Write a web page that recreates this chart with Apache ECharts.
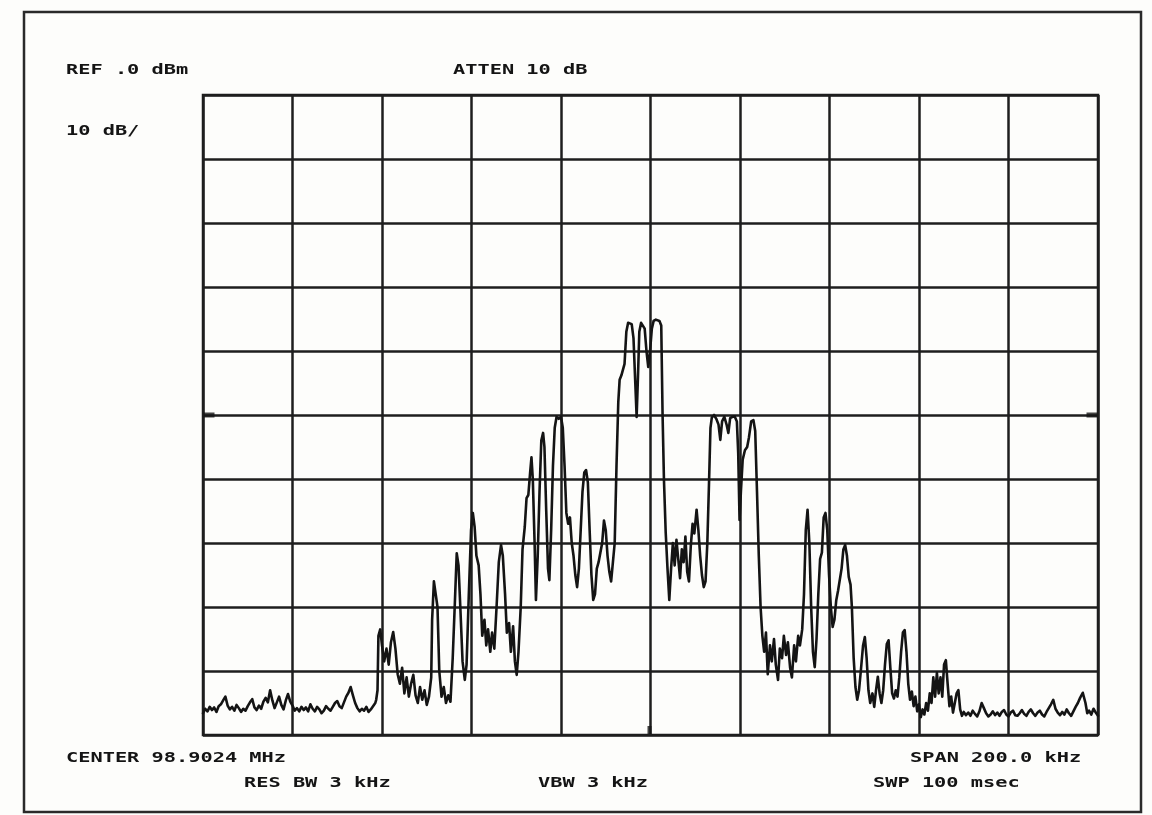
<!DOCTYPE html>
<html>
<head>
<meta charset="utf-8">
<script src="https://cdn.jsdelivr.net/npm/echarts@6/dist/echarts.min.js"></script>
<style>
  html, body { margin: 0; padding: 0; background: #ffffff; }
  #chart { width: 1152px; height: 815px; }
</style>
</head>
<body>
<div id="chart"></div>
<script>
// Spectrum analyzer display: 20 kHz/div across a 200 kHz span, 10 dB/div from a 0 dBm reference.
// Trace points are [offset from center (kHz), level (dBm)].

const floorLeft = [
  [-100,-96.6],[-99.5,-95.9],[-99,-96.3],[-98.5,-95.6],[-98,-96.1],[-97.5,-95.7],[-97,-96.4],[-96.5,-95.5],
  [-96,-95.2],[-95.5,-94.6],[-95,-94.0],[-94.5,-95.4],[-94,-96.0],[-93.5,-95.6],[-93,-96.2],[-92.5,-95.3],
  [-92,-95.8],[-91.5,-96.4],[-91,-95.9],[-90.5,-96.2],[-90,-95.5],[-89.5,-94.9],[-89,-94.4],[-88.5,-95.7],
  [-88,-96.1],[-87.5,-95.4],[-87,-95.9],[-86.5,-94.8],[-86,-94.2],[-85.5,-94.9],[-85,-93.0],[-84.5,-94.6],
  [-84,-95.8],[-83.5,-94.9],[-83,-94.0],[-82.5,-95.3],[-82,-96.0],[-81.5,-94.6],[-81,-93.6],[-80.5,-94.8],
  [-80,-95.4],[-79.5,-96.2],[-79,-95.8],[-78.5,-96.3],[-78,-95.6],[-77.5,-96.1],[-77,-95.7],[-76.5,-96.3],
  [-76,-95.2],[-75.5,-95.9],[-75,-96.3],[-74.5,-95.6],[-74,-96.0],[-73.5,-96.6],[-73,-96.2],[-72.5,-95.5],
  [-72,-95.9],[-71.5,-96.2],[-71,-95.6],[-70.5,-95.0],[-70,-94.7],[-69.5,-95.5],[-69,-95.8],[-68.5,-94.9],
  [-68,-94.0],[-67.5,-93.4],[-67,-92.5],[-66.5,-93.8],[-66,-95.0],[-65.5,-95.8],[-65,-96.3],[-64.5,-95.9],
  [-64,-96.2],[-63.5,-95.6],[-63,-96.4],[-62.5,-96.0],[-62,-95.5],[-61.5,-95.0],[-61.3,-94.5]
];

const lowerOuter = [
  [-61.0,-93.0],[-60.8,-84.5],[-60.4,-83.5],[-60.0,-86.0],[-59.5,-88.5],[-59.0,-86.5],[-58.5,-89.0],
  [-58.0,-85.5],[-57.5,-83.9],[-57.0,-86.5],[-56.5,-90.5],[-56.0,-92.0],[-55.5,-89.5],[-55.0,-93.5],
  [-54.5,-91.0],[-54.0,-94.0],[-53.5,-92.0],[-53.0,-90.6],[-52.5,-93.8],[-52.0,-95.0],[-51.5,-92.5],
  [-51.0,-94.5],[-50.5,-93.0],[-50.0,-95.3],[-49.5,-94.0],[-49.0,-91.0],
  [-48.8,-82.0],[-48.4,-76.0],[-48.0,-75.8],[-47.6,-80.0],[-47.2,-90.0],[-46.7,-94.0],[-46.2,-92.5],
  [-45.7,-95.0],[-45.2,-93.8],[-44.7,-94.8],[-44.2,-88.0],[-43.7,-79.0],[-43.3,-71.6],[-42.9,-73.5],
  [-42.5,-80.0],[-42.0,-88.5],[-41.5,-91.4],[-41.1,-89.0],[-40.6,-78.0],[-40.1,-68.0],[-39.7,-65.3],
  [-39.3,-67.5],[-38.9,-72.0],[-38.4,-73.5],[-38.0,-78.0],[-37.6,-84.5],[-37.1,-82.0],[-36.7,-86.0],
  [-36.3,-83.5],[-35.8,-87.0],[-35.4,-84.0],[-34.9,-86.5],[-34.4,-80.0],[-33.9,-73.0],[-33.4,-70.3],
  [-33.0,-72.0],[-32.5,-78.0],[-32.1,-84.0],[-31.6,-82.5],[-31.2,-87.0],[-30.7,-83.0],[-30.3,-88.5]
];

const lowerInner = [
  [-29.9,-90.6],[-29.5,-87.0],[-29.0,-80.0],[-28.6,-71.0],[-28.1,-67.5],[-27.7,-63.0],[-27.3,-62.5],
  [-26.9,-59.0],[-26.6,-56.6],[-26.3,-60.0],[-25.9,-70.0],[-25.6,-78.9],[-25.2,-72.0],[-24.8,-62.0],
  [-24.4,-54.0],[-24.0,-52.8],[-23.7,-55.0],[-23.3,-65.0],[-22.9,-74.0],[-22.6,-75.8],[-22.2,-68.0],
  [-21.8,-58.0],[-21.4,-52.0],[-21.0,-50.3],[-20.5,-50.6],[-20.0,-50.3],[-19.6,-52.0],[-19.2,-58.0],
  [-18.8,-65.3],[-18.4,-67.0],[-18.0,-66.0],[-17.6,-70.0],[-17.2,-72.0],[-16.8,-75.0],[-16.4,-76.9],
  [-16.0,-74.0],[-15.6,-68.0],[-15.2,-62.0],[-14.8,-59.0],[-14.4,-58.6],[-14.0,-60.5],[-13.6,-68.0],
  [-13.2,-75.0],[-12.8,-78.9],[-12.4,-78.0],[-12.0,-74.0],[-11.6,-73.0],[-11.2,-72.8],[-10.8,-70.0],
  [-10.4,-66.5],[-10.0,-68.0],[-9.6,-72.0],[-9.2,-74.5],[-8.8,-76.0],[-8.4,-76.3],[-8.0,-70.0],
  [-7.6,-58.0],[-7.2,-48.0]
];

const carrier = [
  [-6.9,-44.5],[-6.5,-43.8],[-6.1,-44.0],[-5.8,-42.0],[-5.4,-37.0],[-5.0,-35.6],[-4.6,-35.3],
  [-4.2,-35.8],[-3.8,-38.0],[-3.4,-45.0],[-3.1,-50.3],[-2.8,-44.0],[-2.5,-37.0],[-2.1,-35.6],
  [-1.7,-35.4],[-1.3,-36.5],[-0.9,-40.0],[-0.5,-42.5],[-0.1,-40.0],[0.3,-36.5],[0.7,-35.3],
  [1.2,-35.1],[1.6,-35.2],[2.0,-35.3],[2.4,-36.0],[2.7,-50.0],[3.0,-60.0],[3.4,-68.4],[3.8,-74.0],
  [4.2,-78.9],[4.6,-74.0],[5.0,-70.0],[5.4,-73.5],[5.8,-69.5],[6.2,-72.5],[6.6,-75.5],[7.0,-71.0],
  [7.4,-73.0],[7.8,-69.0],[8.2,-74.5],[8.6,-76.0],[9.0,-70.5],[9.4,-67.0],[9.8,-68.5],[10.3,-64.8],
  [10.7,-68.0],[11.1,-72.0],[11.5,-75.0],[11.9,-76.9],[12.3,-76.0],[12.7,-70.0],[13.1,-60.0],
  [13.4,-52.0]
];

const upperInner = [
  [13.7,-50.4],[14.2,-50.0],[14.7,-50.6],[15.2,-51.5],[15.6,-53.9],[16.0,-51.0],[16.5,-50.3],
  [17.0,-51.5],[17.4,-52.8],[17.8,-50.5],[18.3,-50.3],[18.8,-50.2],[19.3,-51.0],[19.6,-56.0],
  [19.9,-66.4],[20.2,-62.0],[20.6,-57.0],[21.1,-55.5],[21.6,-55.0],[22.0,-53.5],[22.5,-51.0],
  [23.0,-50.8],[23.4,-52.5],[23.8,-62.0],[24.2,-72.0],[24.6,-80.0],[25.0,-84.5]
];

const upperOuter = [
  [25.4,-87.0],[25.8,-84.0],[26.2,-90.5],[26.7,-86.0],[27.1,-88.5],[27.6,-85.0],[28.0,-89.0],
  [28.5,-91.4],[28.9,-86.5],[29.4,-88.0],[29.8,-84.5],[30.3,-87.5],[30.7,-85.5],[31.2,-89.5],
  [31.6,-91.0],[32.1,-86.0],[32.5,-88.5],[33.0,-84.5],[33.4,-86.0],[33.9,-83.5],[34.3,-78.0],
  [34.7,-68.0],[35.1,-64.8],[35.5,-70.0],[35.9,-80.0],[36.3,-87.0],[36.7,-89.4],[37.1,-85.0],
  [37.5,-78.0],[37.9,-72.5],[38.3,-71.5],[38.7,-66.0],[39.1,-65.3],[39.5,-68.0],[39.9,-75.0],
  [40.3,-80.0],[40.7,-83.1],[41.1,-82.0],[41.5,-79.0],[41.9,-77.5],[42.3,-77.3],[42.7,-74.0],
  [43.1,-71.0],[43.5,-70.3],[43.9,-72.0],[44.3,-75.3],[44.7,-76.5],[45.0,-80.0],[45.4,-88.0],
  [45.8,-92.5],[46.2,-94.5]
];

const upperSpurs = [
  [46.6,-93.0],[47.0,-90.0],[47.5,-86.0],[47.9,-84.7],[48.3,-88.0],[48.7,-93.0],[49.1,-95.0],
  [49.6,-93.5],[50.0,-95.6],[50.4,-93.0],[50.8,-90.9],[51.2,-93.5],[51.6,-95.0],[52.0,-93.0],
  [52.4,-89.0],[52.8,-85.8],[53.2,-85.2],[53.6,-89.5],[54.0,-93.5],[54.4,-94.3],[54.8,-93.0],
  [55.2,-94.0],[55.6,-91.0],[56.0,-87.0],[56.4,-84.0],[56.8,-83.6],[57.2,-87.0],[57.6,-92.0],
  [58.0,-94.5],[58.4,-93.2],[58.8,-95.5],[59.2,-94.0],[59.6,-96.3],[60.0,-95.2],[60.4,-97.2],
  [60.8,-96.0],[61.2,-96.8],[61.6,-95.0],[62.0,-96.2],[62.4,-93.5],[62.8,-95.0],[63.2,-91.0],
  [63.6,-94.0],[64.0,-90.3],[64.4,-93.5],[64.8,-91.0],[65.2,-94.0],[65.6,-89.0],[66.0,-88.3],
  [66.4,-92.0],[66.8,-95.5],[67.2,-94.0],[67.6,-96.5],[68.0,-95.0],[68.4,-93.5],[68.8,-93.0],
  [69.2,-96.0],[69.6,-97.0]
];

const floorRight = [
  [70,-96.4],[70.5,-96.9],[71,-96.5],[71.5,-97.0],[72,-96.2],[72.5,-96.7],[73,-97.1],[73.5,-96.3],
  [74,-95.0],[74.5,-95.8],[75,-96.6],[75.5,-97.1],[76,-96.8],[76.5,-96.3],[77,-96.9],[77.5,-96.5],
  [78,-97.0],[78.5,-96.4],[79,-96.1],[79.5,-96.8],[80,-97.1],[80.5,-96.5],[81,-96.2],[81.5,-96.9],
  [82,-97.0],[82.5,-96.6],[83,-96.1],[83.5,-96.7],[84,-97.0],[84.5,-96.4],[85,-96.0],[85.5,-96.6],
  [86,-97.0],[86.5,-96.5],[87,-96.2],[87.5,-96.8],[88,-97.1],[88.5,-96.4],[89,-95.8],[89.5,-95.2],
  [90,-94.5],[90.5,-95.9],[91,-96.5],[91.5,-96.9],[92,-96.4],[92.5,-96.8],[93,-96.0],[93.5,-96.6],
  [94,-97.0],[94.5,-96.3],[95,-95.6],[95.5,-95.0],[96,-94.2],[96.6,-93.4],[97.2,-95.0],[97.6,-96.6],
  [98,-96.2],[98.5,-96.8],[99,-95.9],[99.5,-96.5],[100,-97.0]
];

// Display line markers at the graticule edges, and the center-frequency marker.
const displayLine = [[-100,-50],[100,-50]];
const centerMarker = [[0,-100]];

// Annotation text
const topLeftLabels = ['REF .0 dBm', '10 dB/'];
const topCenterLabel = 'ATTEN 10 dB';
const bottomLabels = ['CENTER 98.9024 MHz', 'SPAN 200.0 kHz', 'RES BW 3 kHz', 'VBW 3 kHz', 'SWP 100 msec'];

const trace = [].concat(floorLeft, lowerOuter, lowerInner, carrier, upperInner, upperOuter, upperSpurs, floorRight);

const INK = '#141414';
const FONT = 'bold 14px "DejaVu Sans Mono", "Liberation Mono", monospace';

function label(text, x, y, align) {
  return {
    type: 'text', x: x, y: y, scaleX: 1.45, scaleY: 1,
    style: { text: text, font: FONT, fill: INK, textAlign: align || 'left', textVerticalAlign: 'middle' }
  };
}

const chart = echarts.init(document.getElementById('chart'), null, { renderer: 'canvas' });

chart.setOption({
  backgroundColor: '#fdfdfb',
  animation: false,
  grid: {
    left: 203, right: 54, top: 95, bottom: 80,
    show: true, borderColor: '#1e1e1e', borderWidth: 2.5, backgroundColor: 'transparent'
  },
  xAxis: {
    type: 'value', min: -100, max: 100, interval: 20,
    axisLine: { show: false }, axisTick: { show: false }, axisLabel: { show: false },
    splitLine: { show: true, lineStyle: { color: '#1e1e1e', width: 2.5 } }
  },
  yAxis: {
    type: 'value', min: -100, max: 0, interval: 10,
    axisLine: { show: false }, axisTick: { show: false }, axisLabel: { show: false },
    splitLine: { show: true, lineStyle: { color: '#1e1e1e', width: 2.5 } }
  },
  series: [
    {
      type: 'line', data: trace, showSymbol: false, smooth: false,
      lineStyle: { color: INK, width: 2.6, join: 'round', cap: 'round' },
      z: 3
    },
    {
      type: 'scatter', data: [displayLine[0]], symbol: 'rect', symbolSize: [11, 5],
      symbolOffset: [6, 0], itemStyle: { color: INK }, z: 4
    },
    {
      type: 'scatter', data: [displayLine[1]], symbol: 'rect', symbolSize: [11, 5],
      symbolOffset: [-6, 0], itemStyle: { color: INK }, z: 4
    },
    {
      type: 'scatter', data: centerMarker, symbol: 'rect', symbolSize: [4, 8],
      symbolOffset: [-1, -5], itemStyle: { color: INK }, z: 4
    }
  ],
  graphic: [
    {
      type: 'rect', shape: { x: 24, y: 12, width: 1117, height: 800 },
      style: { fill: 'transparent', stroke: '#2a2a2a', lineWidth: 2.5 }, z: 10
    },
    label(topLeftLabels[0], 66, 70),
    label(topCenterLabel, 453, 70),
    label(topLeftLabels[1], 66, 131),
    label(bottomLabels[0], 66, 758),
    label(bottomLabels[1], 910, 758),
    label(bottomLabels[2], 244, 783),
    label(bottomLabels[3], 538, 783),
    label(bottomLabels[4], 873, 783)
  ]
});
</script>
</body>
</html>
